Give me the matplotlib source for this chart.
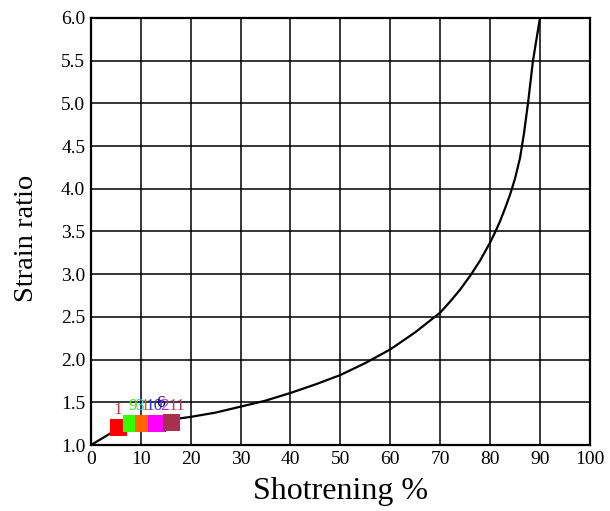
import matplotlib
matplotlib.use("Agg")
import matplotlib.pyplot as plt

# curve
shortening = [0, 2, 4, 7, 10, 15, 20, 25, 30, 35, 40, 45, 50, 55, 60, 65, 70, 72, 74,
              76, 78, 80, 81, 82, 83, 84, 85, 86, 86.8, 87.6, 88.1, 88.6, 89.3, 90]
strain = [1.0, 1.07, 1.14, 1.2, 1.24, 1.29, 1.33, 1.38, 1.45, 1.52, 1.61, 1.71, 1.82,
          1.96, 2.12, 2.32, 2.55, 2.68, 2.82, 2.98, 3.16, 3.37, 3.49, 3.62, 3.77, 3.93,
          4.12, 4.36, 4.65, 5.0, 5.25, 5.5, 5.75, 6.0]

# samples (drawn in this order, later ones cover earlier ones)
sample_ids = ["3", "10", "6", "1", "9", "1", "2", "11"]
sample_x = [9.5, 12.0, 13.3, 5.6, 8.2, 10.5, 13.1, 16.2]
sample_y = [1.25, 1.25, 1.25, 1.21, 1.25, 1.25, 1.25, 1.27]
sample_colors = ["#00e5e5", "#2020ff", "#200070", "#ff0000", "#33ff00", "#ff6600",
                 "#ff00ff", "#a83050"]
label_colors = ["#20d8d8", "#3030e0", "#1a0060", "#d03040", "#40dd10", "#d06020",
                "#b020e0", "#b04060"]
label_x = [9.8, 12.6, 13.9, 5.4, 8.5, 10.9, 14.8, 17.2]
label_y = [1.36, 1.36, 1.40, 1.32, 1.36, 1.36, 1.36, 1.36]

plt.rcParams["font.family"] = ["Liberation Serif", "DejaVu Serif"]

fig = plt.figure(figsize=(6.1, 5.11), dpi=100)
ax = fig.add_axes([0.149, 0.129, 0.818, 0.836])

ax.plot(shortening, strain, color="black", lw=1.6, zorder=3)

for i in range(len(sample_ids)):
    ax.scatter(sample_x[i], sample_y[i], marker="s", s=150, color=sample_colors[i],
               edgecolors="none", zorder=4)
    ax.text(label_x[i], label_y[i], sample_ids[i], color=label_colors[i],
            fontsize=12.5, ha="center", va="bottom", zorder=5)

ax.set_xlim(0, 100)
ax.set_ylim(1.0, 6.0)
ax.set_xticks(range(0, 101, 10))
ax.set_yticks([1.0 + 0.5 * k for k in range(11)])
ax.set_yticklabels(["%.1f" % (1.0 + 0.5 * k) for k in range(11)])
ax.grid(True, color="black", lw=1.1)
ax.set_axisbelow(True)
for sp in ax.spines.values():
    sp.set_linewidth(1.6)
ax.tick_params(length=0, pad=4, labelsize=14)

ax.set_xlabel("Shotrening %", fontsize=23, labelpad=7)
ax.set_ylabel("Strain ratio", fontsize=20.5)
ax.yaxis.set_label_coords(-0.104, 0.485)

fig.savefig("out.png", dpi=100)
